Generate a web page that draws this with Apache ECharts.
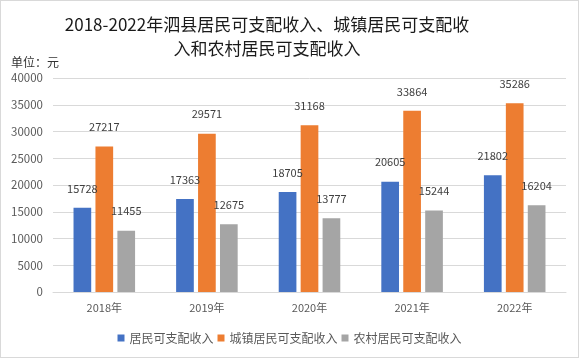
<!DOCTYPE html>
<html><head><meta charset="utf-8">
<script src="https://cdn.jsdelivr.net/npm/echarts@6/dist/echarts.min.js"></script>
<style>html,body{margin:0;padding:0;background:#fff}#c{width:577px;height:356px;border:1px solid #d9d9d9}</style>
</head><body><div id="c"></div>
<script>
const categories = ['2018年','2019年','2020年','2021年','2022年'];
const residents = [15728,17363,18705,20605,21802];
const urban = [27217,29571,31168,33864,35286];
const rural = [11455,12675,13777,15244,16204];
const seriesNames = ['居民可支配收入','城镇居民可支配收入','农村居民可支配收入'];
const yTicks = {min:0,max:40000,interval:5000};
const font = '"Microsoft YaHei","Noto Sans CJK SC",sans-serif';
const chart = echarts.init(document.getElementById('c'));
const lbl = {show:true,position:'top',color:'#404040',fontSize:11,fontFamily:font,distance:14};
chart.setOption({
  animation:false,
  textStyle:{fontFamily:font},
  title:[{text:'2018-2022年泗县居民可支配收入、城镇居民可支配收\n入和农村居民可支配收入',left:261,top:7,textAlign:'center',
    textStyle:{fontSize:17,fontWeight:'normal',color:'#1a1a1a',lineHeight:24}},
    {text:'单位：元',left:5,top:50,textStyle:{fontSize:12,fontWeight:'normal',color:'#333'}}],
  legend:{bottom:8,left:'center',itemWidth:7,itemHeight:7,itemGap:4,icon:'rect',
    textStyle:{fontSize:12,color:'#595959'}},
  grid:{left:52,right:12,top:77,bottom:65},
  xAxis:{type:'category',data:categories,axisTick:{show:false},
    axisLine:{lineStyle:{color:'#d9d9d9'}},axisLabel:{color:'#595959',fontSize:11,margin:10}},
  yAxis:{type:'value',min:yTicks.min,max:yTicks.max,interval:yTicks.interval,
    axisLabel:{color:'#595959',fontSize:11.5,margin:10,formatter:v=>String(v)},splitLine:{lineStyle:{color:'#d9d9d9'}},axisLine:{show:false}},
  series:[
    {name:seriesNames[0],type:'bar',data:residents,itemStyle:{color:'#4472c4'},barGap:'24%',barCategoryGap:'40%',label:lbl},
    {name:seriesNames[1],type:'bar',data:urban,itemStyle:{color:'#ed7d31'},label:lbl},
    {name:seriesNames[2],type:'bar',data:rural,itemStyle:{color:'#a5a5a5'},label:lbl}
  ]
});
</script></body></html>
